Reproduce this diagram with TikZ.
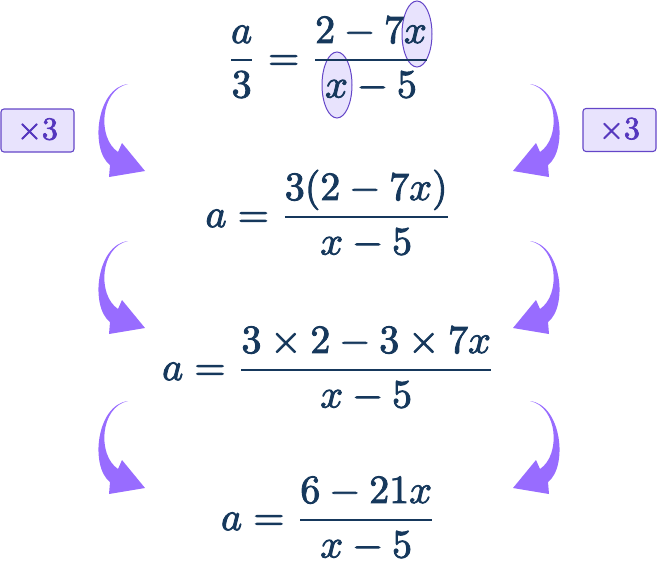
\documentclass[tikz,border=0pt]{standalone}
\usepackage{amsmath}
\usepackage{graphicx}

\definecolor{navy}{RGB}{22,56,92}
\definecolor{swooshcol}{RGB}{152,108,255}
\definecolor{lilac}{RGB}{232,227,253}
\definecolor{violet}{RGB}{100,70,200}
\definecolor{violettext}{RGB}{85,55,190}

% slightly heavier strokes for the glyphs
\newcommand{\heavyon}{\special{pdf:literal direct 2 Tr 0.22 w}}
\newcommand{\heavyoff}{\special{pdf:literal direct 0 Tr}}

\tikzset{
  eqn/.style={scale=4,inner sep=0pt,anchor=base,text=navy},
  multbox/.style={draw=violet,fill=lilac,text=violettext,rounded corners=3pt,
    line width=1.1pt,minimum width=73pt,minimum height=43pt,inner sep=0pt},
  ring/.style={draw=violet,fill=lilac,line width=1pt},
  swoosh/.style={fill=swooshcol}
}

\begin{document}
\begin{tikzpicture}[x=1pt,y=-1pt]
 \useasboundingbox (0,0) rectangle (657,562);
 % rings round the x terms
 \draw[ring] (417,34) ellipse [x radius=15, y radius=33];
 \draw[ring] (337,85) ellipse [x radius=15, y radius=33];
 % the four lines
 \node[eqn] (eqA) at (329,70) {\heavyon$\dfrac{a}{3}=\dfrac{2-7x}{x-5}$\heavyoff};
 \node[eqn] (eqB) at (329,227) {\heavyon$a=\dfrac{3(2-7x)}{x-5}$\heavyoff};
 \node[eqn] (eqC) at (329,380) {\heavyon$a=\dfrac{3\times2-3\times7x}{x-5}$\heavyoff};
 \node[eqn] (eqD) at (329,530) {\heavyon$a=\dfrac{6-21x}{x-5}$\heavyoff};
 % multiplier boxes
 \node[multbox] (boxL) at (37.5,130.5) {\heavyon\scalebox{3.2}{$\times3$}\heavyoff};
 \node[multbox] (boxR) at (619.5,130) {\heavyon\scalebox{3.2}{$\times3$}\heavyoff};
 % curved arrows, left side and mirrored right side
 \foreach \dy in {0,157,317}{
  \fill[swoosh,yshift=-\dy pt] (128,84) .. controls (96,88) and (90,150) .. (110,165)
    -- (109,177) -- (145,171) -- (122,143) -- (118,152)
    .. controls (97,138) and (100,90) .. (128,84) -- cycle;
  \fill[swoosh,yshift=-\dy pt,xshift=658pt,xscale=-1] (128,84) .. controls (96,88) and (90,150) .. (110,165)
    -- (109,177) -- (145,171) -- (122,143) -- (118,152)
    .. controls (97,138) and (100,90) .. (128,84) -- cycle;
 }
\end{tikzpicture}
\end{document}
